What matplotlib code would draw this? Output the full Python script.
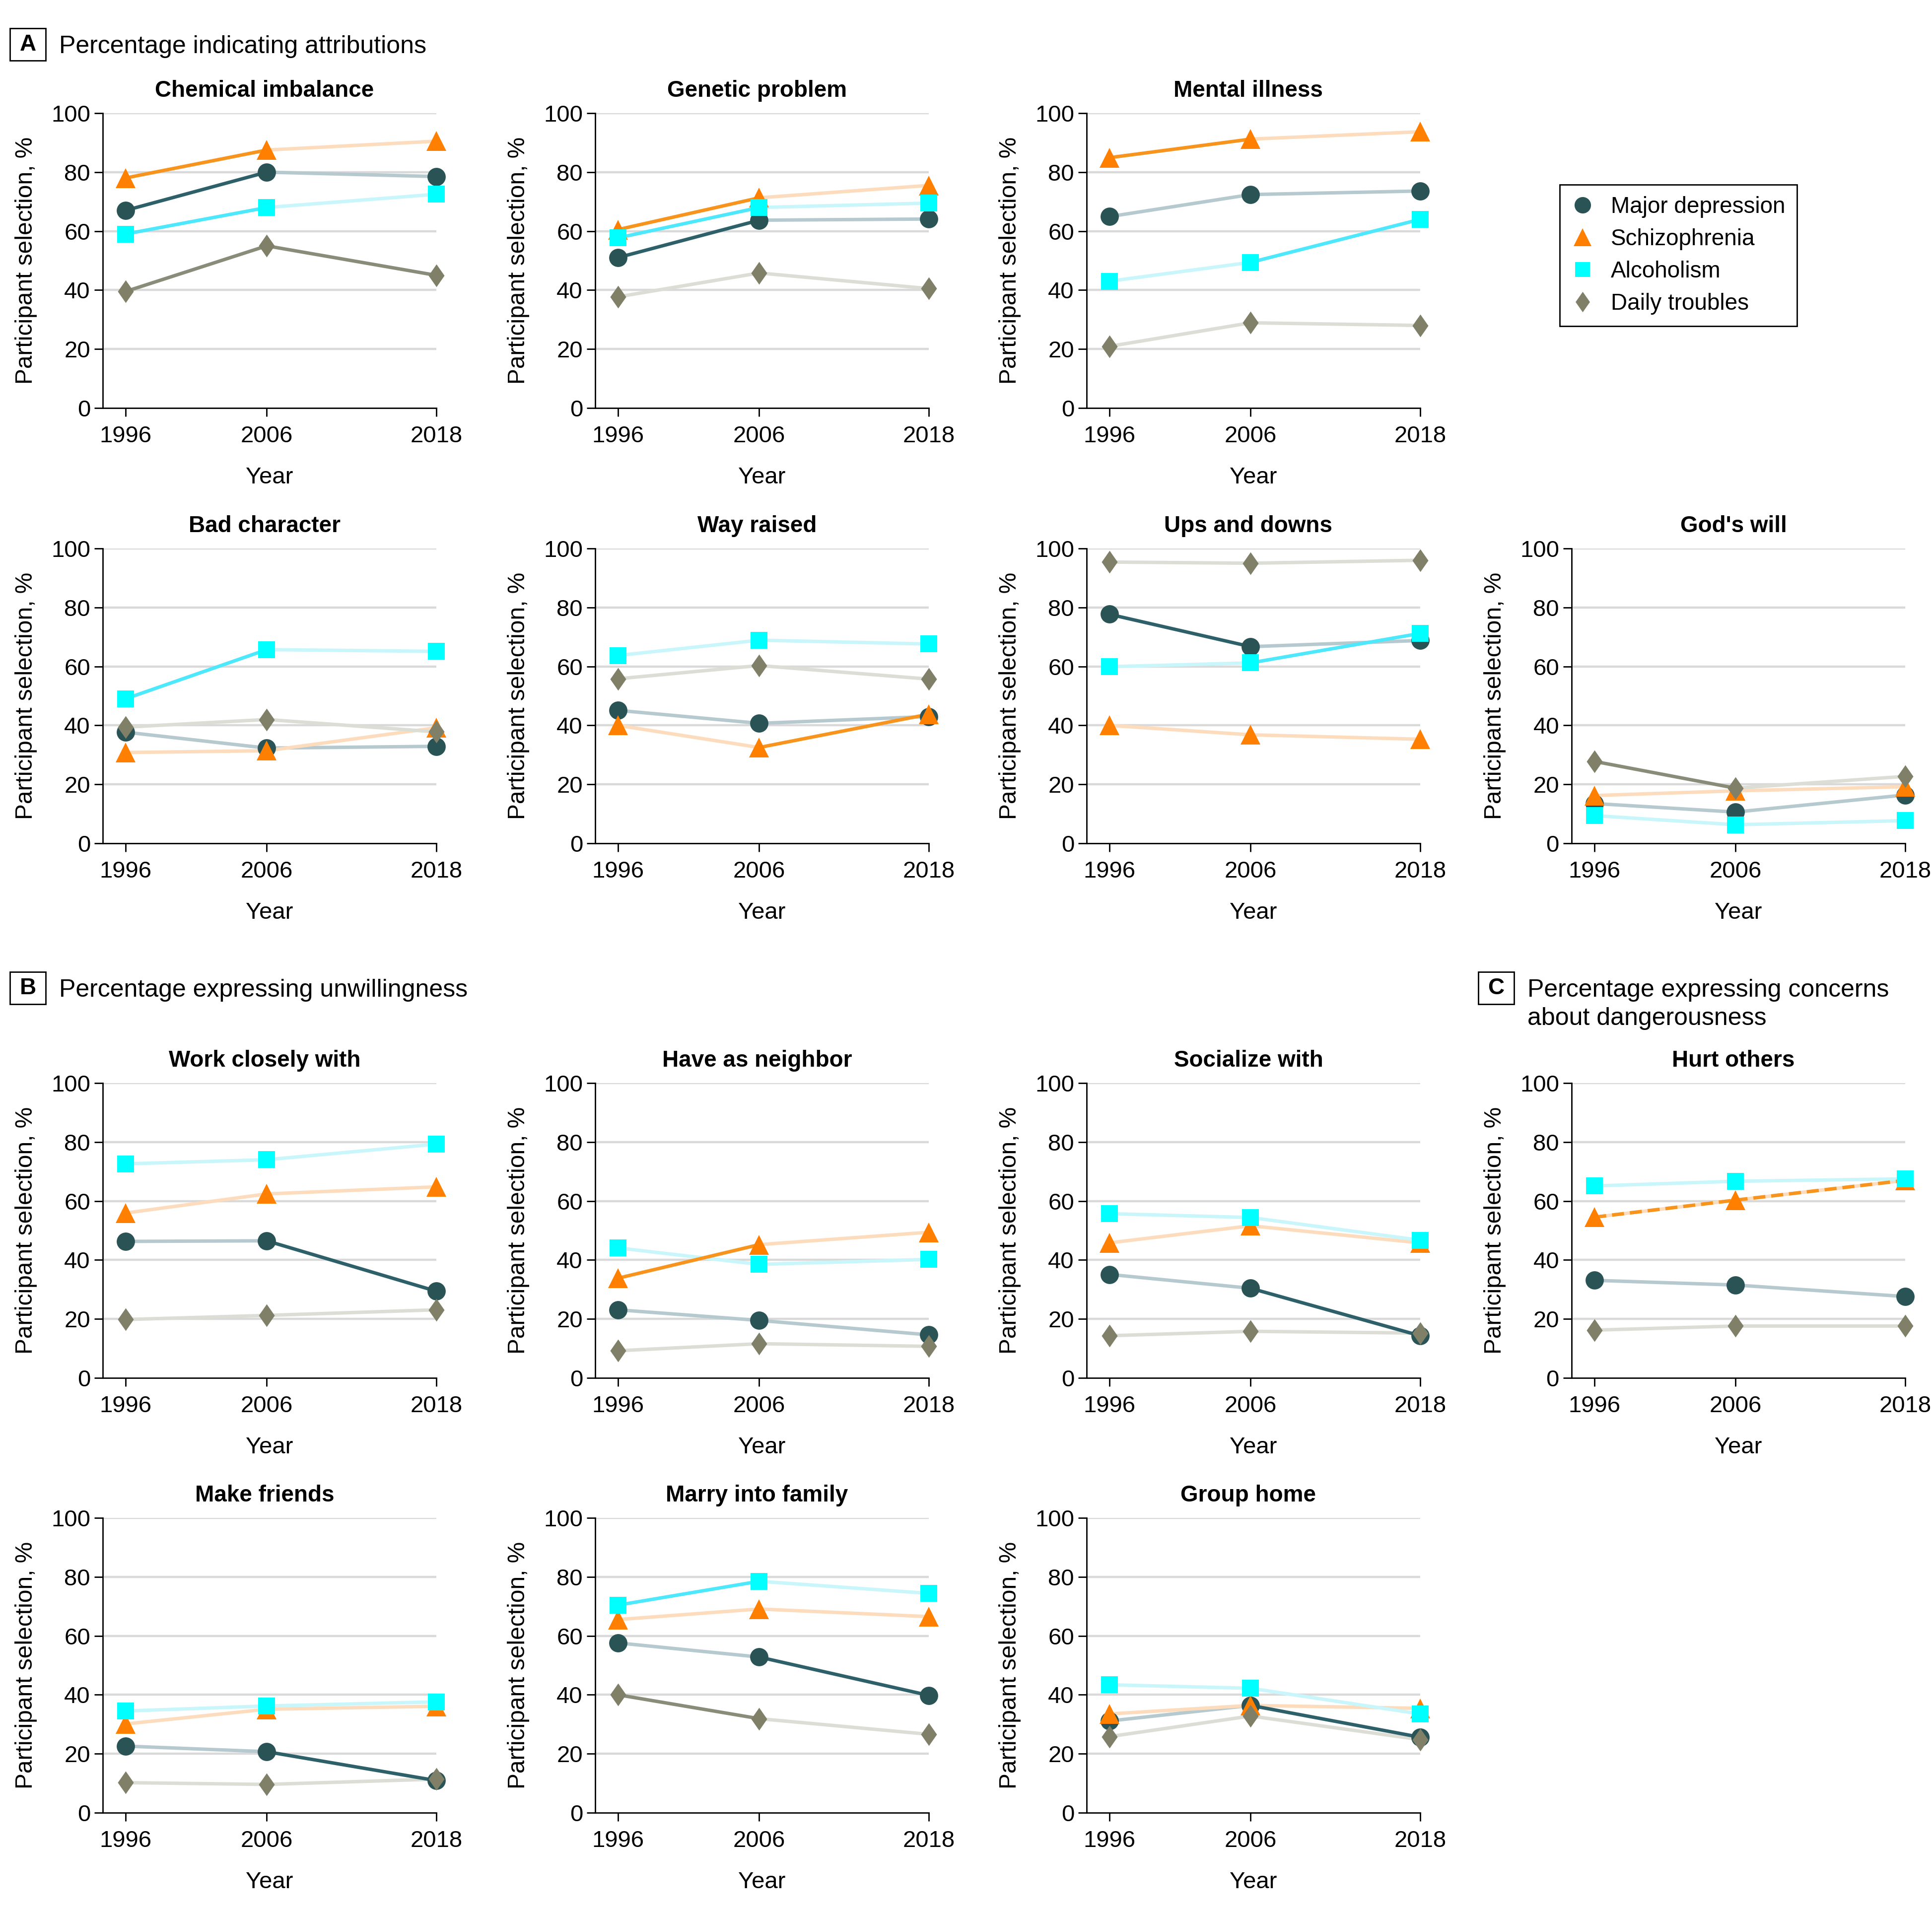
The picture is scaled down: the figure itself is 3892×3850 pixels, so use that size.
import matplotlib.pyplot as plt
from matplotlib.lines import Line2D
from matplotlib.patches import Rectangle

plt.rcParams['font.family'] = ['Liberation Sans', 'DejaVu Sans']

years = [1996, 2006, 2018]
series_names = ['Major depression', 'Schizophrenia', 'Alcoholism', 'Daily troubles']

panel_titles = ['Chemical imbalance', 'Genetic problem', 'Mental illness',
                'Bad character', 'Way raised', 'Ups and downs', "God's will",
                'Work closely with', 'Have as neighbor', 'Socialize with', 'Hurt others',
                'Make friends', 'Marry into family', 'Group home']

# values per panel (1996, 2006, 2018)
md_vals = [[67, 80, 78.5], [51, 63.7, 64.1], [64.9, 72.4, 73.6],
           [37.7, 32.3, 32.9], [45.1, 40.7, 43.0], [77.7, 66.7, 68.8], [13.5, 10.6, 16.4],
           [46.3, 46.5, 29.4], [23.1, 19.5, 14.6], [35.1, 30.4, 14.3], [33.1, 31.5, 27.6],
           [22.6, 20.7, 10.9], [57.6, 52.8, 39.8], [31.1, 36.4, 25.6]]
sz_vals = [[78, 87.5, 90.5], [60.5, 71.3, 75.5], [84.9, 91.2, 93.7],
           [30.8, 31.4, 39.2], [40.0, 32.5, 43.8], [40.0, 36.8, 35.3], [16.2, 17.8, 19.2],
           [55.9, 62.4, 64.8], [33.8, 45.2, 49.4], [45.8, 51.6, 45.8], [54.5, 60.3, 67.0],
           [30.1, 35.1, 36.1], [65.5, 69.1, 66.5], [33.5, 36.4, 35.4]]
al_vals = [[59, 68, 72.5], [57.7, 68.0, 69.5], [43.0, 49.4, 64.0],
           [49.0, 65.7, 65.1], [63.7, 68.9, 67.6], [59.9, 61.2, 71.2], [9.4, 6.3, 7.7],
           [72.6, 74.0, 79.3], [44.1, 38.5, 40.2], [55.7, 54.4, 46.7], [65.1, 66.7, 67.5],
           [34.5, 36.2, 37.6], [70.4, 78.5, 74.4], [43.4, 42.2, 33.5]]
dt_vals = [[39.5, 55, 45], [37.7, 45.8, 40.5], [20.9, 28.9, 28.0],
           [39.4, 42.0, 37.8], [55.8, 60.3, 55.7], [95.4, 95.0, 96.0], [27.8, 18.7, 22.7],
           [19.8, 21.2, 23.1], [9.2, 11.6, 10.7], [14.3, 15.8, 15.2], [16.2, 17.6, 17.6],
           [10.2, 9.6, 11.4], [40.0, 31.9, 26.6], [25.8, 32.8, 24.8]]

# segment styles (1996-2006, 2006-2018): 1 = significant, 0 = not significant, 2 = dashed
md_sig = [[1, 0], [1, 0], [0, 0], [0, 0], [0, 0], [1, 0], [0, 0],
          [0, 1], [0, 0], [0, 1], [0, 0], [0, 1], [0, 1], [0, 1]]
sz_sig = [[1, 0], [1, 0], [1, 0], [0, 0], [0, 1], [0, 0], [0, 0],
          [0, 0], [1, 0], [0, 0], [2, 2], [0, 0], [0, 0], [0, 0]]
al_sig = [[1, 0], [1, 0], [0, 1], [1, 0], [0, 0], [0, 1], [0, 0],
          [0, 0], [0, 0], [0, 0], [0, 0], [0, 0], [1, 0], [0, 0]]
dt_sig = [[1, 1], [0, 0], [0, 0], [0, 0], [0, 0], [0, 0], [1, 0],
          [0, 0], [0, 0], [0, 0], [0, 0], [0, 0], [1, 0], [0, 0]]

# styling
marker_colors = ['#2a5356', '#ff8000', '#00ffff', '#808069']
dark_colors = ['#2e6069', '#f7941e', '#4de8fb', '#8a8c7a']
light_colors = ['#b5c9cf', '#fcdcbd', '#c9f6fb', '#dcddd5']
diamond = [(0, 1), (0.7, 0), (0, -1), (-0.7, 0), (0, 1)]
markers = ['o', '^', 's', diamond]
msizes = [26.5, 28.5, 24, 33]

W, H = 3892, 3850
fig = plt.figure(figsize=(W / 100, H / 100), dpi=100)

col_x = [207, 1199, 2189, 3166]
row_y = [228, 1105, 2182, 3058]
ax_w, ax_h = 672, 594
layout = [(0, 0), (0, 1), (0, 2),
          (1, 0), (1, 1), (1, 2), (1, 3),
          (2, 0), (2, 1), (2, 2), (2, 3),
          (3, 0), (3, 1), (3, 2)]

all_vals = [md_vals, sz_vals, al_vals, dt_vals]
all_sig = [md_sig, sz_sig, al_sig, dt_sig]

for p, title in enumerate(panel_titles):
    r, c = layout[p]
    x0, y0 = col_x[c], row_y[r]
    ax = fig.add_axes([x0 / W, 1 - (y0 + ax_h) / H, ax_w / W, ax_h / H])
    ax.set_xlim(1994.4, 2018)
    ax.set_ylim(0, 100)
    for y in range(20, 101, 20):
        ax.axhline(y, color='#d9d9d9', lw=3.2, zorder=0)

    # lines first
    for s in range(4):
        vals = all_vals[s][p]
        for k in range(2):
            flag = all_sig[s][p][k]
            xs = years[k:k + 2]
            ys = vals[k:k + 2]
            if flag == 1:
                ax.plot(xs, ys, color=dark_colors[s], lw=5, zorder=2,
                        solid_capstyle='butt', clip_on=False)
            else:
                ax.plot(xs, ys, color=light_colors[s], lw=5, zorder=1,
                        solid_capstyle='butt', clip_on=False)
                if flag == 2:
                    ax.plot(xs, ys, color=dark_colors[s], lw=5, zorder=2,
                            dashes=(3.5, 1.7), clip_on=False)
    # markers
    for s in range(4):
        ax.plot(years, all_vals[s][p], ls='none', marker=markers[s],
                ms=msizes[s], color=marker_colors[s], mew=0,
                zorder=3 + s, clip_on=False)

    ax.set_title(title, fontsize=33, fontweight='bold', pad=24, x=0.485)
    ax.set_xticks(years)
    ax.set_yticks(range(0, 101, 20))
    ax.tick_params(axis='both', labelsize=34, length=12, width=2)
    ax.tick_params(axis='x', pad=13)
    ax.tick_params(axis='y', pad=6)
    ax.set_xlabel('Year', fontsize=34, labelpad=28)
    ax.set_ylabel('Participant selection, %', fontsize=34.5, labelpad=20)
    for side in ['top', 'right']:
        ax.spines[side].set_visible(False)
    for side in ['left', 'bottom']:
        ax.spines[side].set_linewidth(2)


def section_label(x, y, letter, lines):
    fig.patches.append(Rectangle((x / W, 1 - (y + 65) / H), 72 / W, 65 / H,
                                 transform=fig.transFigure, fill=False,
                                 edgecolor='black', lw=2))
    fig.text((x + 36) / W, 1 - (y + 33) / H, letter, fontsize=33,
             fontweight='bold', ha='center', va='center')
    for i, line in enumerate(lines):
        fig.text((x + 99) / W, 1 - (y + 37 + 57 * i) / H, line, fontsize=36,
                 ha='left', va='center')


section_label(20, 57, 'A', ['Percentage indicating attributions'])
section_label(20, 1958, 'B', ['Percentage expressing unwillingness'])
section_label(2978, 1958, 'C', ['Percentage expressing concerns', 'about dangerousness'])

handles = [Line2D([], [], ls='none', marker=markers[s], ms=msizes[s] * 0.9,
                  color=marker_colors[s], mew=0) for s in range(4)]
leg = fig.legend(handles, series_names, loc='upper left',
                 bbox_to_anchor=(3142 / W, 1 - 372 / H), fontsize=33,
                 frameon=True, fancybox=False, edgecolor='black', framealpha=1,
                 borderpad=0.5, labelspacing=0.46, handlelength=1.0,
                 handletextpad=0.75, borderaxespad=0)
leg.get_frame().set_linewidth(2)

fig.savefig('out.png', dpi=100, facecolor='white')
